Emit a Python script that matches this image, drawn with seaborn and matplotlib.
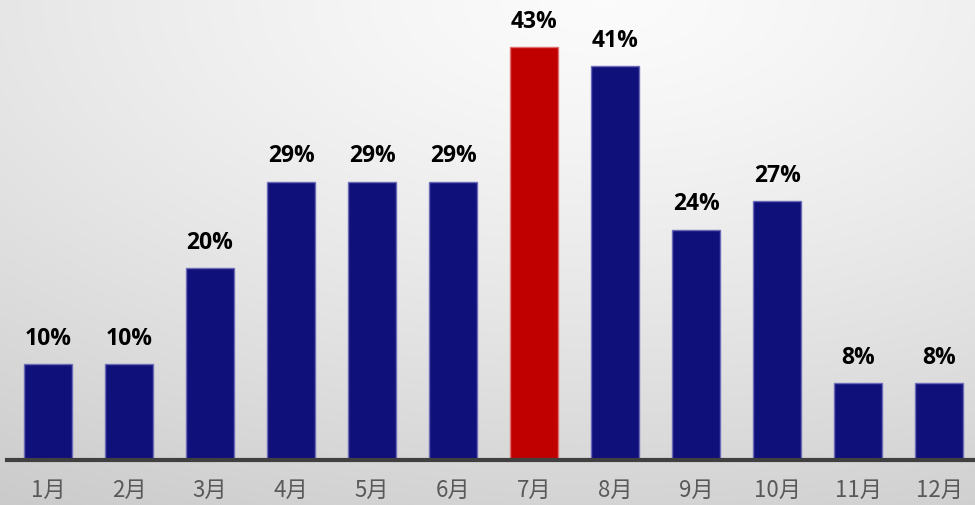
import numpy as np
import pandas as pd
import matplotlib
matplotlib.use("Agg")
import matplotlib.pyplot as plt
import seaborn as sns

months = ["1月", "2月", "3月", "4月", "5月", "6月", "7月", "8月", "9月", "10月", "11月", "12月"]
values = [10, 10, 20, 29, 29, 29, 43, 41, 24, 27, 8, 8]
labels = ["10%", "10%", "20%", "29%", "29%", "29%", "43%", "41%", "24%", "27%", "8%", "8%"]
highlight = "7月"

sns.set_theme(style="white")
plt.rcParams['font.family'] = ['Noto Sans CJK SC', 'DejaVu Sans']

W, H = 975, 505
fig = plt.figure(figsize=(W / 100, H / 100), dpi=100)

# radial gradient background
bg = fig.add_axes([0, 0, 1, 1])
yy, xx = np.mgrid[0:H, 0:W]
cx, cy = 0.62 * W, 0.0 * H
r = np.sqrt(((xx - cx) / W) ** 2 + ((yy - cy) / H) ** 2)
r = r / r.max()
val = 0.985 - 0.19 * r ** 1.3
img = np.dstack([val, val, val])
bg.imshow(img, aspect="auto", extent=[0, 1, 0, 1])
bg.axis("off")
bg.set_zorder(0)

ax = fig.add_axes([7 / W, (H - 460) / H, (W - 7) / W, 460 / H])
ax.set_zorder(1)
ax.patch.set_alpha(0)

df = pd.DataFrame({"month": months, "value": values})
palette = {m: ("#C00000" if m == highlight else "#10107A") for m in months}
sns.barplot(data=df, x="month", y="value", hue="month", palette=palette,
            order=months, legend=False, width=0.59, saturation=1, ax=ax)

for p, m in zip(ax.patches, months):
    p.set_edgecolor("#E07070" if m == highlight else "#6A6AB8")
    p.set_linewidth(1.0)

for i, (v, lab) in enumerate(zip(values, labels)):
    ax.annotate(lab, (i, v), xytext=(0, 9.5), textcoords="offset points",
                ha="center", va="bottom", fontsize=16.5, fontweight="bold",
                color="black", family=["Open Sans", "DejaVu Sans"])

ax.set_xlim(-0.506, 11.44)
ax.set_ylim(0, 47.9)
ax.set_xlabel("")
ax.set_ylabel("")
ax.set_yticks([])
for s in ["top", "left", "right"]:
    ax.spines[s].set_visible(False)
ax.spines["bottom"].set_color("#404040")
ax.spines["bottom"].set_linewidth(3)
ax.tick_params(axis="x", length=0, pad=13.5, labelsize=16, labelcolor="#595959")

fig.savefig("out.png", dpi=100)
